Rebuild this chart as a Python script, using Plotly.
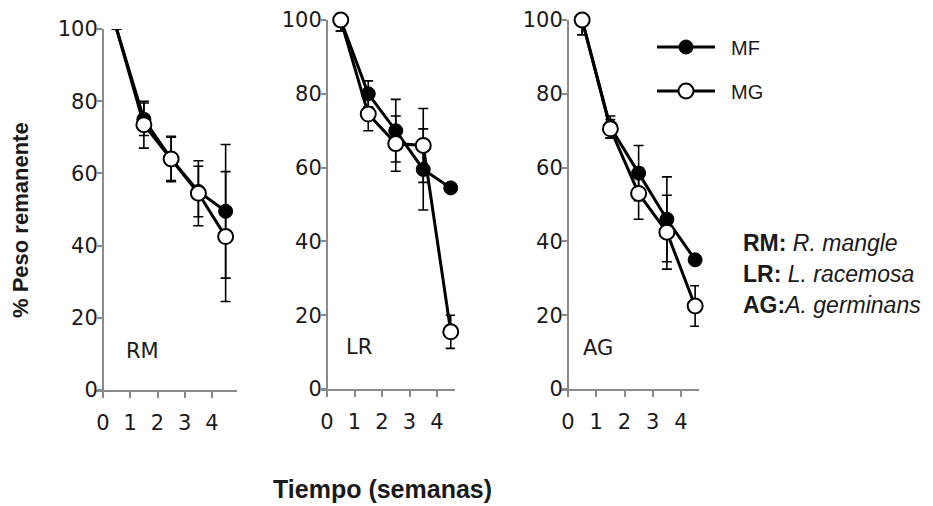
import plotly.graph_objects as go

# ---------------- data ----------------
weeks = [0.5, 1.5, 2.5, 3.5, 4.5]

rm_mf = [100, 75, 64, 55, 49.5]
rm_mf_sd = [None, 4.5, 6, 7, 18.5]
rm_mg = [100, 73.5, 64, 54.5, 42.5]
rm_mg_sd = [None, 6.5, 6.3, 9, 18]

lr_mf = [100, 80, 70, 59.5, 54.5]
lr_mf_sd = [3, 3.5, 8.5, 11, None]
lr_mg = [100, 74.5, 66.5, 66, 15.5]
lr_mg_sd = [3, 4.5, 7.5, 10, 4.5]

ag_mf = [100, 71, 58.5, 46, 35]
ag_mf_sd = [4, 3, 7.5, 11.5, None]
ag_mg = [100, 70.5, 53, 42.5, 22.5]
ag_mg_sd = [4, 2.5, 7, 10, 5.5]

panel_labels = ["RM", "LR", "AG"]
x_ticks = [0, 1, 2, 3, 4]
y_ticks = [0, 20, 40, 60, 80, 100]

PAGE_W, PAGE_H = 933, 506
OFF = 8  # default page body margin of the browser
W, H = PAGE_W - OFF, PAGE_H - OFF


def fx(px):
    return (px - OFF) / W


def fy(py):
    return 1 - (py - OFF) / H


AXC = "#8a8a8a"
TICKFONT = dict(family="DejaVu Sans", size=21, color="#1a1a1a")

# panel geometry (page pixels): y-axis x position, x-axis line extent, y pixel of 0 and 100
panels = [
    dict(y0x=103, xl=96, xr=237, ybot=390, ytop=29, span=27.25),
    dict(y0x=327, xl=321, xr=455, ybot=389, ytop=20, span=27.5),
    dict(y0x=568, xl=560, xr=699, ybot=389, ytop=20, span=28.25),
]

series = [
    (rm_mf, rm_mf_sd, rm_mg, rm_mg_sd),
    (lr_mf, lr_mf_sd, lr_mg, lr_mg_sd),
    (ag_mf, ag_mf_sd, ag_mg, ag_mg_sd),
]

fig = go.Figure()
layout = {}
for i, (p, (mf, mfsd, mg, mgsd)) in enumerate(zip(panels, series)):
    n = "" if i == 0 else str(i + 1)
    xa, ya = "x" + n, "y" + n
    msize_mf = [14] * len(weeks)
    msize_mg = [15] * len(weeks)
    if i == 0:
        msize_mf[0] = 0
        msize_mg[0] = 0
    err_style = dict(type="data", symmetric=True, color="black", thickness=1.6, width=5)
    fig.add_trace(go.Scatter(
        x=weeks, y=mf, xaxis=xa, yaxis=ya, mode="lines+markers", name="\u00a0\u00a0MF",
        line=dict(color="black", width=3),
        marker=dict(symbol="circle", size=msize_mf, color="black", opacity=1,
                    line=dict(color="black", width=1)),
        error_y=dict(array=mfsd, **err_style),
        cliponaxis=False, showlegend=(i == 2), legend="legend",
    ))
    fig.add_trace(go.Scatter(
        x=weeks, y=mg, xaxis=xa, yaxis=ya, mode="lines+markers", name="\u00a0\u00a0MG",
        line=dict(color="black", width=3),
        marker=dict(symbol="circle", size=msize_mg, color="white", opacity=1,
                    line=dict(color="black", width=2)),
        error_y=dict(array=mgsd, **err_style),
        cliponaxis=False, showlegend=(i == 2), legend="legend2",
    ))
    left = (p["xl"] - p["y0x"]) / p["span"]
    right = (p["xr"] - p["y0x"]) / p["span"]
    layout["xaxis" + n] = dict(
        domain=[fx(p["xl"]), fx(p["xr"])], range=[left, right], anchor=ya,
        showline=True, linecolor=AXC, linewidth=2, showgrid=False, zeroline=False,
        ticks="outside", ticklen=6, tickwidth=2, tickcolor=AXC,
        tickvals=x_ticks, ticktext=[str(t) for t in x_ticks], tickfont=TICKFONT,
        ticklabelstandoff=7, automargin=False, fixedrange=True,
    )
    layout["yaxis" + n] = dict(
        domain=[fy(p["ybot"]), fy(p["ytop"])], range=[0, 100],
        anchor="free", position=fx(p["y0x"]),
        showline=True, linecolor=AXC, linewidth=2, showgrid=False, zeroline=False,
        ticks="outside", ticklen=5, tickwidth=2, tickcolor=AXC,
        tickvals=y_ticks, tickfont=TICKFONT, ticklabelstandoff=-5,
        automargin=False, fixedrange=True,
    )

anns = []
label_pos = [(142, 351), (359, 347), (598, 348)]
for lab, (lx, ly) in zip(panel_labels, label_pos):
    anns.append(dict(text=lab, x=fx(lx), y=fy(ly), xref="paper", yref="paper",
                     xanchor="center", yanchor="middle", showarrow=False,
                     font=dict(family="DejaVu Sans", size=21, color="#1a1a1a")))
anns.append(dict(text="<b>Tiempo (semanas)</b>", x=fx(382), y=fy(489), xref="paper", yref="paper",
                 xanchor="center", yanchor="middle", showarrow=False,
                 font=dict(family="Liberation Sans", size=25, color="#1a1a1a")))
anns.append(dict(text="<b>% Peso remanente</b>", x=fx(21), y=fy(220), xref="paper", yref="paper",
                 xanchor="center", yanchor="middle", showarrow=False, textangle=-90,
                 font=dict(family="Liberation Sans", size=22, color="#1a1a1a")))
species = ["<b>RM:</b> <i>R. mangle</i>", "<b>LR:</b> <i>L. racemosa</i>", "<b>AG:</b><i>A. germinans</i>"]
for k, s in enumerate(species):
    anns.append(dict(text=s, x=fx(741), y=fy(243 + 31 * k), xref="paper", yref="paper",
                     xanchor="left", yanchor="middle", showarrow=False,
                     font=dict(family="Liberation Sans", size=23, color="#1a1a1a")))

leg_common = dict(xanchor="left", yanchor="middle", bgcolor="rgba(0,0,0,0)",
                  font=dict(family="Liberation Sans", size=20, color="#1a1a1a"),
                  itemwidth=58)
layout["legend"] = dict(x=fx(652), y=fy(47), **leg_common)
layout["legend2"] = dict(x=fx(652), y=fy(91), **leg_common)

fig.update_layout(
    width=W, height=H, margin=dict(l=0, r=0, t=0, b=0, autoexpand=False),
    paper_bgcolor="white", plot_bgcolor="white",
    annotations=anns, showlegend=True, **layout,
)
fig.write_html("out.html")
